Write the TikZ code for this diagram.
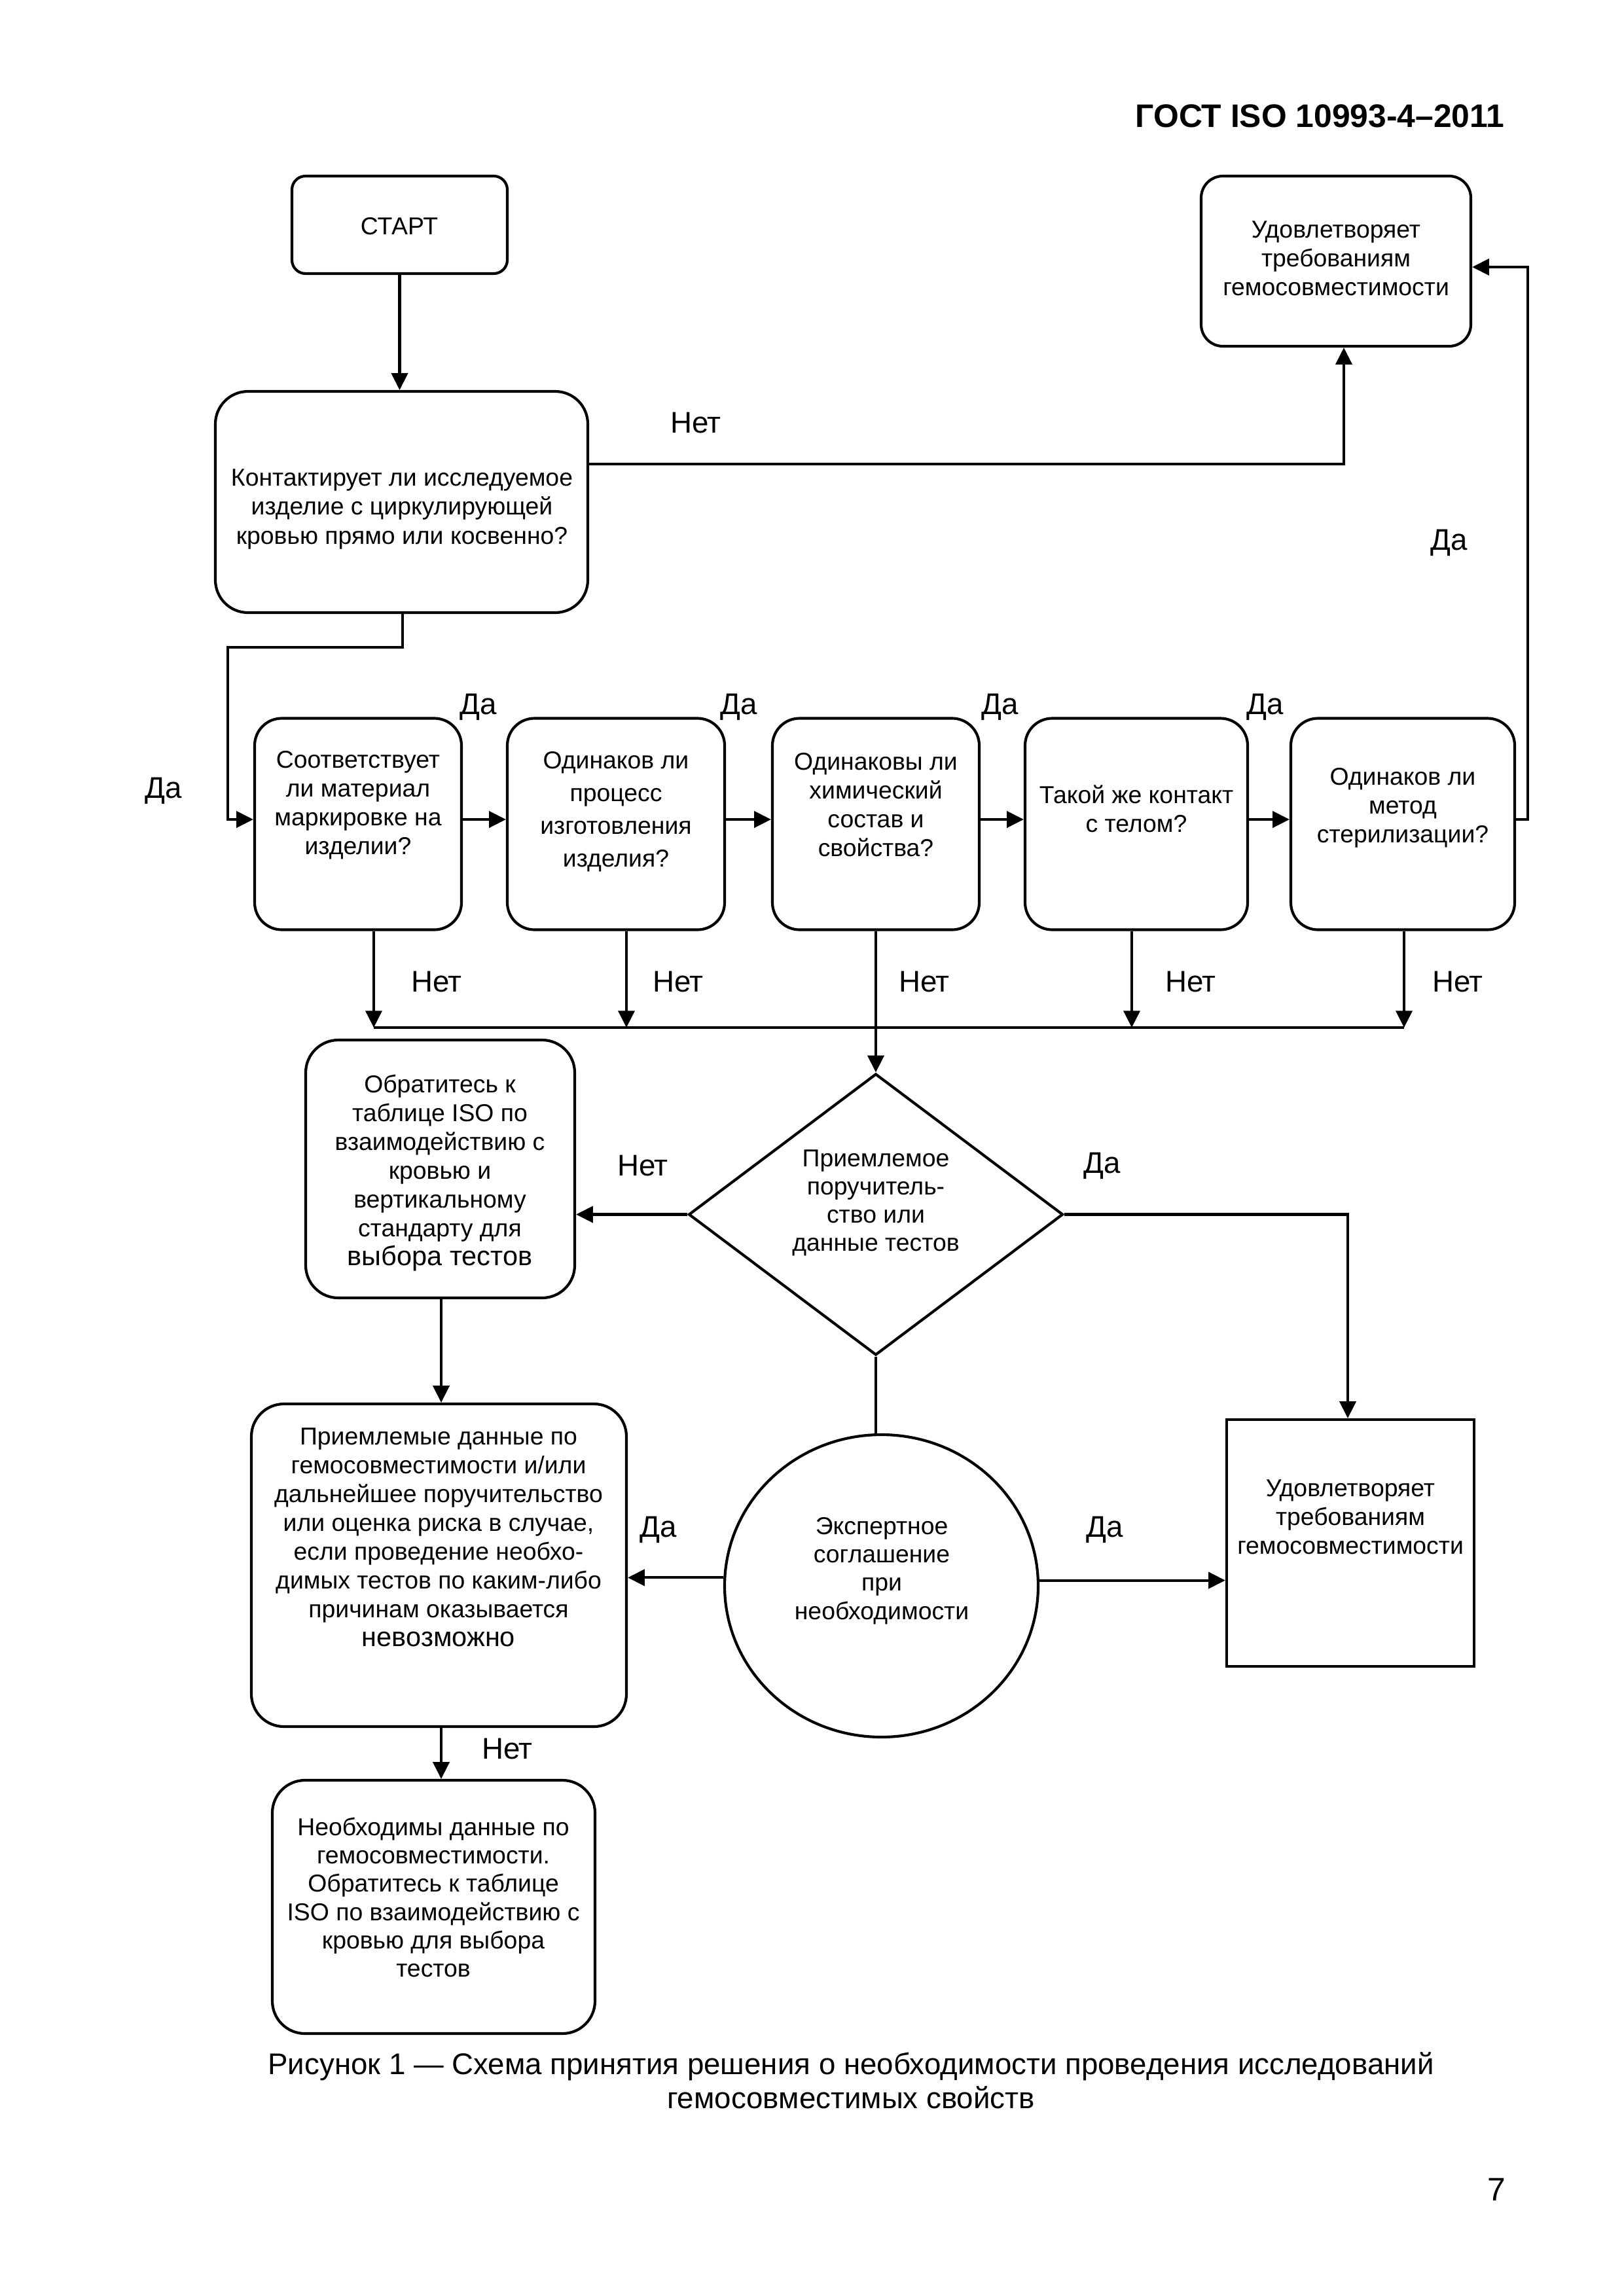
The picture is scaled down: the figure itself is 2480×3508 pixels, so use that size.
\documentclass[tikz,border=0pt]{standalone}
\usepackage{fontspec}
\setmainfont{Liberation Sans}
\usetikzlibrary{shapes.geometric,arrows.meta,calc}
\def\pxu{0.0084677cm}
\newcommand\boxfont{\fontsize{9}{10.6}\selectfont}
\newcommand\bigline{\fontsize{10}{12}\selectfont}
\tikzset{
  rbox/.style={draw, line width=1pt, rounded corners=#1, inner sep=0pt},
  rbox/.default=12pt,
  sbox/.style={draw, line width=1pt, inner sep=0pt},
  txt/.style={font=\boxfont, align=center, inner sep=0pt},
  lbl/.style={font=\fontsize{11}{13}\selectfont, inner sep=0pt},
  arr/.style={line width=1pt, -{Triangle[length=6.2pt,width=6pt]}},
  ln/.style={line width=1pt}
}
\begin{document}
\begin{tikzpicture}[x=0.0084677cm, y=-0.0084677cm]
\useasboundingbox (0,0) rectangle (2480,3508);
\fill[white] (0,0) rectangle (2480,3508);

% header
\node[anchor=east, font=\bfseries\fontsize{12}{14}\selectfont, inner sep=0pt] (hdr) at (2299,177) {ГОСТ ISO 10993-4–2011};

% boxes
\node[rbox=5pt, minimum width=329*\pxu, minimum height=149*\pxu] (start) at (610.5,343.5) {};
\node[txt] (tstart) at (610,346) {СТАРТ};

\node[rbox=12pt, minimum width=569*\pxu, minimum height=338*\pxu] (q1) at (613.5,767) {};
\node[txt, font=\fontsize{9}{10.8}\selectfont] (tq1) at (614,778) {Контактирует ли исследуемое\\изделие с циркулирующей\\кровью прямо или косвенно?};

\node[rbox=8pt, minimum width=412*\pxu, minimum height=260*\pxu] (ok1) at (2041,399) {};
\node[txt] (tok1) at (2041,395) {Удовлетворяет\\требованиям\\гемосовместимости};

\node[rbox=10pt, minimum width=316*\pxu, minimum height=323*\pxu] (b1) at (547,1259) {};
\node[rbox=10pt, minimum width=332*\pxu, minimum height=323*\pxu] (b2) at (941,1259) {};
\node[rbox=10pt, minimum width=316*\pxu, minimum height=323*\pxu] (b3) at (1338,1259) {};
\node[rbox=10pt, minimum width=340*\pxu, minimum height=323*\pxu] (b4) at (1736,1259) {};
\node[rbox=10pt, minimum width=342*\pxu, minimum height=323*\pxu] (b5) at (2143,1259) {};
\node[txt] (tb1) at (547,1230) {Соответствует\\ли материал\\маркировке на\\изделии?};
\node[txt, font=\fontsize{9}{12}\selectfont] (tb2) at (941,1240) {Одинаков ли\\процесс\\изготовления\\изделия?};
\node[txt] (tb3) at (1338,1230) {Одинаковы ли\\химический\\состав и\\свойства?};
\node[txt] (tb4) at (1736,1236) {Такой же контакт\\с телом?};
\node[txt] (tb5) at (2143,1234) {Одинаков ли\\метод\\стерилизации?};

\node[draw, line width=1pt, diamond, inner sep=0pt, minimum width=572*\pxu, minimum height=430*\pxu] (dia) at (1338,1855.5) {};
\node[txt, font=\fontsize{9}{10.4}\selectfont] (tdia) at (1338,1838) {Приемлемое\\поручитель-\\ство или\\данные тестов};

\node[rbox=12pt, minimum width=411*\pxu, minimum height=394*\pxu] (ref) at (672.5,1786) {};
\node[txt] (tref) at (672,1792) {Обратитесь к\\таблице ISO по\\взаимодействию с\\кровью и\\вертикальному\\стандарту для\\{\bigline выбора тестов}};

\node[sbox, minimum width=378*\pxu, minimum height=377*\pxu] (ok2) at (2063,2357.5) {};
\node[txt] (tok2) at (2063,2318) {Удовлетворяет\\требованиям\\гемосовместимости};

\node[draw, line width=1pt, ellipse, inner sep=0pt, minimum width=479*\pxu, minimum height=462*\pxu] (circ) at (1346.5,2423) {};
\node[txt, font=\fontsize{9}{10.4}\selectfont] (tcirc) at (1347,2400) {Экспертное\\соглашение\\при\\необходимости};

\node[rbox=12pt, minimum width=573*\pxu, minimum height=493*\pxu] (acc) at (670.5,2391.5) {};
\node[txt] (tacc) at (670,2349) {Приемлемые данные по\\гемосовместимости и/или\\дальнейшее поручительство\\или оценка риска в случае,\\если проведение необхо-\\димых тестов по каким-либо\\причинам оказывается\\{\bigline невозможно}};

\node[rbox=12pt, minimum width=493*\pxu, minimum height=387*\pxu] (need) at (662.5,2913.5) {};
\node[txt, font=\fontsize{9}{10.4}\selectfont] (tneed) at (662,2899) {Необходимы данные по\\гемосовместимости.\\Обратитесь к таблице\\ISO по взаимодействию с\\кровью для выбора\\тестов};

% coordinates
\coordinate (c1) at (2053,709);
\coordinate (c2a) at (615,989);
\coordinate (c2b) at (348,989);
\coordinate (c2c) at (348,1252);
\coordinate (c3a) at (2334,1252);
\coordinate (c3b) at (2334,408);
\coordinate (h1) at (571,1570);
\coordinate (h2) at (957,1570);
\coordinate (h4) at (1729,1570);
\coordinate (h5) at (2145,1570);
\coordinate (d1) at (2059,1855.5);

% connectors
\draw[arr] (start.south) -- (start.south |- q1.north);
\draw[arr] (q1.east |- c1) -- (c1) -- (c1 |- ok1.south);
\draw[arr] (c2a |- q1.south) -- (c2a) -- (c2b) -- (c2c) -- (c2c -| b1.west);
\draw[arr] (b1.east |- c2c) -- (b2.west |- c2c);
\draw[arr] (b2.east |- c2c) -- (b3.west |- c2c);
\draw[arr] (b3.east |- c2c) -- (b4.west |- c2c);
\draw[arr] (b4.east |- c2c) -- (b5.west |- c2c);
\draw[arr] (b5.east |- c3a) -- (c3a) -- (c3b) -- (c3b -| ok1.east);

\draw[arr] (h1 |- b1.south) -- (h1);
\draw[arr] (h2 |- b2.south) -- (h2);
\draw[arr] (h4 |- b4.south) -- (h4);
\draw[arr] (h5 |- b5.south) -- (h5);
\draw[ln] (h1) -- (h5);
\draw[arr] (b3.south) -- (dia.north);

\draw[arr] (dia.west) -- (dia.west -| ref.east);
\draw[arr] (dia.east) -- (d1) -- (d1 |- ok2.north);
\draw[ln] (dia.south) -- (dia.south |- circ.north);

\draw[arr] (ref.south -| 674,0) -- (acc.north -| 674,0);
\draw[arr] (circ.177.6) -- (circ.177.6 -| acc.east);
\draw[arr] (circ.2.4) -- (circ.2.4 -| ok2.west);
\draw[arr] (acc.south -| 674,0) -- (need.north -| 674,0);

% labels
\node[lbl] (l1) at (1063,646) {Нет};
\node[lbl] (l2) at (2214,829) {Да};
\node[lbl] (l3) at (250,1208) {Да};
\node[lbl] (l4) at (731,1080) {Да};
\node[lbl] (l5) at (1129,1080) {Да};
\node[lbl] (l6) at (1528,1080) {Да};
\node[lbl] (l7) at (1933,1080) {Да};
\node[lbl] (n1) at (667,1500) {Нет};
\node[lbl] (n2) at (1036,1500) {Нет};
\node[lbl] (n3) at (1412,1500) {Нет};
\node[lbl] (n4) at (1819,1500) {Нет};
\node[lbl] (n5) at (2227,1500) {Нет};
\node[lbl] (l8) at (982,1781) {Нет};
\node[lbl] (l9) at (1684,1781) {Да};
\node[lbl] (l10) at (1006,2337) {Да};
\node[lbl] (l11) at (1688,2337) {Да};
\node[lbl] (l12) at (775,2672) {Нет};

% caption
\node[font=\fontsize{11}{12.5}\selectfont, align=center, inner sep=0pt] (cap) at (1300,3179) {Рисунок 1 — Схема принятия решения о необходимости проведения исследований\\гемосовместимых свойств};
\node[font=\fontsize{12}{14}\selectfont, inner sep=0pt] (pg) at (2286,3345) {7};
\end{tikzpicture}
\end{document}
